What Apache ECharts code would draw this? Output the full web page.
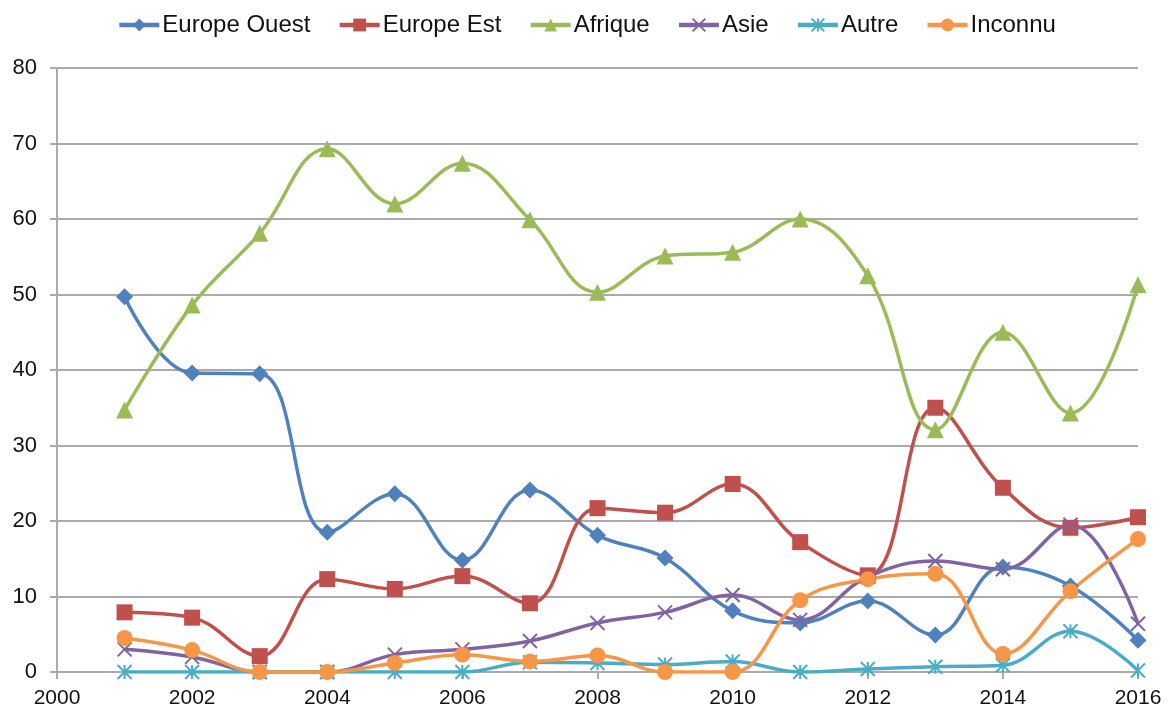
<!DOCTYPE html>
<html>
<head>
<meta charset="utf-8">
<script src="https://cdn.jsdelivr.net/npm/echarts@6/dist/echarts.min.js"></script>
<style>
  html, body { margin: 0; padding: 0; background: #fff; }
  #main { width: 1173px; height: 718px; }
</style>
</head>
<body>
<div id="main"></div>
<script>
const years = [2001, 2002, 2003, 2004, 2005, 2006, 2007, 2008, 2009, 2010, 2011, 2012, 2013, 2014, 2015, 2016];

const europeOuest = [49.7, 39.6, 39.5, 18.5, 23.6, 14.8, 24.1, 18.1, 15.1, 8.1, 6.5, 9.4, 4.9, 13.9, 11.4, 4.2];
const europeEst   = [7.9, 7.2, 2.1, 12.3, 11.0, 12.7, 9.1, 21.7, 21.1, 24.9, 17.2, 12.8, 35.0, 24.4, 19.1, 20.5];
const afrique     = [34.7, 48.6, 58.1, 69.3, 62.0, 67.4, 59.9, 50.3, 55.1, 55.6, 60.0, 52.5, 32.1, 45.0, 34.3, 51.3];
const asie        = [3.0, 2.0, 0, 0, 2.3, 3.0, 4.1, 6.5, 7.9, 10.2, 6.9, 12.6, 14.7, 13.6, 19.5, 6.4];
const autre       = [0, 0, 0, 0, 0, 0, 1.3, 1.2, 1.0, 1.4, 0, 0.4, 0.7, 0.9, 5.4, 0.2];
const inconnu     = [4.5, 2.9, 0, 0, 1.2, 2.3, 1.4, 2.2, 0, 0, 9.5, 12.3, 13.0, 2.4, 10.7, 17.6];

const xTicks = [2000, 2002, 2004, 2006, 2008, 2010, 2012, 2014, 2016];

const CROSS = 'path://M0,0L10,10M10,0L0,10';
const STAR = 'path://M0,0L10,10M10,0L0,10M5,0L5,10';

function pairs(values) {
  let out = [];
  for (let i = 0; i < years.length; i++) {
    out.push([years[i], values[i]]);
  }
  return out;
}

function makeSeries(name, values, color, symbol, size, stroked) {
  return {
    name: name,
    type: 'line',
    smooth: 0.4,
    data: pairs(values),
    symbol: symbol,
    symbolSize: size,
    showSymbol: true,
    lineStyle: { width: 3.5, color: color },
    itemStyle: stroked
      ? { color: color, borderColor: color, borderWidth: 2 }
      : { color: color },
    emphasis: { disabled: true }
  };
}

let myChart = echarts.init(document.getElementById('main'));
let option = {
  backgroundColor: '#fff',
  animation: false,
  textStyle: { fontFamily: 'Liberation Sans, Arial, sans-serif' },
  legend: {
    top: 8,
    left: 'center',
    itemWidth: 40,
    itemHeight: 16,
    itemGap: 27,
    lineStyle: { width: 4.5 },
    textStyle: { fontSize: 24, color: '#111', padding: [0, 0, 0, -2] },
    data: ['Europe Ouest', 'Europe Est', 'Afrique', 'Asie', 'Autre', 'Inconnu']
  },
  grid: { left: 57, right: 35, top: 68, bottom: 46 },
  xAxis: {
    type: 'value',
    min: 2000,
    max: 2016,
    interval: 2,
    axisLine: { show: true, lineStyle: { color: '#ababab', width: 2 } },
    axisTick: { show: true, length: 7, lineStyle: { color: '#ababab', width: 2 } },
    splitLine: { show: false },
    axisLabel: {
      fontSize: 21,
      color: '#111',
      margin: 16,
      formatter: function (v) { return xTicks.indexOf(v) >= 0 ? String(v) : ''; }
    }
  },
  yAxis: {
    type: 'value',
    min: 0,
    max: 80,
    interval: 10,
    axisLine: { show: true, lineStyle: { color: '#ababab', width: 2 } },
    axisTick: { show: true, length: 7, lineStyle: { color: '#ababab', width: 2 } },
    splitLine: { show: true, lineStyle: { color: '#ababab', width: 2 } },
    axisLabel: { fontSize: 22, color: '#111', margin: 20 }
  },
  series: [
    makeSeries('Europe Ouest', europeOuest, '#4F81BD', 'diamond', 17, false),
    makeSeries('Europe Est', europeEst, '#C0504D', 'rect', 16, false),
    makeSeries('Afrique', afrique, '#9BBB59', 'triangle', 17, false),
    makeSeries('Asie', asie, '#8064A2', CROSS, 14, true),
    makeSeries('Autre', autre, '#4BACC6', STAR, 14, true),
    makeSeries('Inconnu', inconnu, '#F79646', 'circle', 16, false)
  ]
};
option && myChart.setOption(option);
</script>
</body>
</html>
